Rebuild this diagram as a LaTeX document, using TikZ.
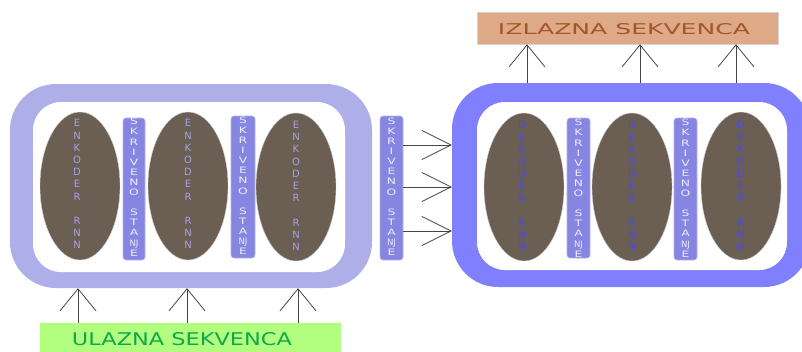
\documentclass[tikz,border=0pt]{standalone}
\usepackage{fontspec}
\usepackage{graphicx}
\newfontfamily\dvsans{DejaVu Sans}
\usetikzlibrary{arrows.meta,shapes.geometric}
\definecolor{encborder}{HTML}{AEAEE8}
\definecolor{decborder}{HTML}{8080FF}
\definecolor{cellfill}{HTML}{6B5E53}
\definecolor{barfill}{HTML}{8686E2}
\definecolor{barline}{HTML}{B4B4F0}
\definecolor{enctext}{HTML}{A79FE8}
\definecolor{dectext}{HTML}{4A4AF5}
\definecolor{bartext}{HTML}{ECECFA}
\definecolor{infill}{HTML}{B2FF80}
\definecolor{intext}{HTML}{10A848}
\definecolor{outfill}{HTML}{DDA987}
\definecolor{outtext}{HTML}{A5552A}
\definecolor{arrline}{HTML}{454545}
\newcommand\encletters{\begin{tabular}{@{}c@{}}E\\N\\K\\O\\D\\E\\R\\ \\R\\N\\N\end{tabular}}
\newcommand\decletters{\begin{tabular}{@{}c@{}}D\\E\\K\\O\\D\\E\\R\\ \\R\\N\\N\end{tabular}}
\newcommand\barletters{\scalebox{1.4}[1]{\begin{tabular}{@{}c@{}}S\\K\\R\\I\\V\\E\\N\\O\\ \\S\\T\\A\\\scalebox{0.7}[1]{NJ}\\E\end{tabular}}}
\tikzset{
  outerbox/.style={rectangle,rounded corners=46pt,inner sep=0pt},
  innerbox/.style={rectangle,rounded corners=28pt,fill=white,inner sep=0pt},
  cell/.style={ellipse,fill=cellfill,draw=gray!40,line width=0.4pt,minimum width=80pt,minimum height=148pt,inner sep=0pt},
  celltext/.style={font=\dvsans\fontsize{10}{12.2}\selectfont,inner sep=0pt},
  hidden/.style={rectangle,rounded corners=3pt,fill=barfill,draw=barline,line width=0.6pt,minimum width=23pt,inner sep=0pt},
  hiddentext/.style={font=\dvsans\fontsize{8.8}{10.1}\selectfont,text=bartext,inner sep=0pt},
  varr/.style={draw=arrline,line width=0.8pt,-{Straight Barb[length=22pt,width=36pt,line width=0.8pt]}},
  harr/.style={draw=arrline,line width=0.8pt,-{Straight Barb[length=29pt,width=29pt,line width=0.8pt]}},
  seqbox/.style={rectangle,inner sep=0pt,font=\dvsans}
}
\begin{document}
\begin{tikzpicture}[x=1pt,y=-1pt]
\useasboundingbox (0,0) rectangle (802,351);
% encoder container
\node[outerbox,fill=encborder,minimum width=362pt,minimum height=204pt] (encOut) at (191,186) {};
\node[innerbox,minimum width=312pt,minimum height=170pt] (encIn) at (189,187) {};
% decoder container
\node[outerbox,fill=decborder,minimum width=358pt,minimum height=204pt] (decOut) at (631,185) {};
\node[innerbox,minimum width=310pt,minimum height=168pt] (decIn) at (632,186) {};
% encoder cells
\node[cell] (e1) at (80,186) {};
\node[cell] (e2) at (188,186) {};
\node[cell] (e3) at (296,187) {};
\node[celltext,text=enctext] (e1t) at (77,185.5) {\encletters};
\node[celltext,text=enctext] (e2t) at (188,185.5) {\encletters};
\node[celltext,text=enctext] (e3t) at (296,187) {\encletters};
% decoder cells
\node[cell] (d1) at (524,187) {};
\node[cell] (d2) at (632,187) {};
\node[cell] (d3) at (741,186) {};
\node[celltext,text=dectext] (d1t) at (522,187.5) {\decletters};
\node[celltext,text=dectext] (d2t) at (632,187.5) {\decletters};
\node[celltext,text=dectext] (d3t) at (741,187) {\decletters};
% hidden states
\node[hidden,minimum width=22pt,minimum height=142pt] (h1) at (134,189) {};
\node[hidden,minimum width=24pt,minimum height=142pt] (h2) at (243,187) {};
\node[hidden,minimum height=144pt] (h3) at (391.5,188) {};
\node[hidden,minimum height=140pt] (h4) at (578.5,188) {};
\node[hidden,minimum height=142pt] (h5) at (685.5,189) {};
\node[hiddentext] (h1t) at (134,188.5) {\barletters};
\node[hiddentext] (h2t) at (243,187) {\barletters};
\node[hiddentext] (h3t) at (391.5,188) {\barletters};
\node[hiddentext] (h4t) at (578.5,189.5) {\barletters};
\node[hiddentext] (h5t) at (685.5,189.5) {\barletters};
% sequences
\node[seqbox,fill=infill,minimum width=301pt,minimum height=36pt] (inp) at (190.5,341) {};
\node[seqbox,text=intext] (inpt) at (182,339.5) {\resizebox{220pt}{13pt}{ULAZNA SEKVENCA}};
\node[seqbox,fill=outfill,draw=gray!35,line width=0.6pt,minimum width=301pt,minimum height=32pt] (outp) at (627.5,28) {};
\node[seqbox,text=outtext] (outpt) at (624,29.5) {\resizebox{252pt}{11pt}{IZLAZNA SEKVENCA}};
% arrows input -> encoder
\foreach \xx in {78,187,298}
  \draw[varr] (inp.north -| \xx,0) -- (encOut.south -| \xx,0);
% arrows decoder -> output
\foreach \xx in {527,640,736}
  \draw[varr] (decOut.north -| \xx,0) -- (outp.south -| \xx,0);
% arrows hidden state -> decoder
\foreach \yy in {145,187,231}
  \draw[harr] (h3.east |- 0,\yy) -- (decOut.west |- 0,\yy);
\end{tikzpicture}
\end{document}
